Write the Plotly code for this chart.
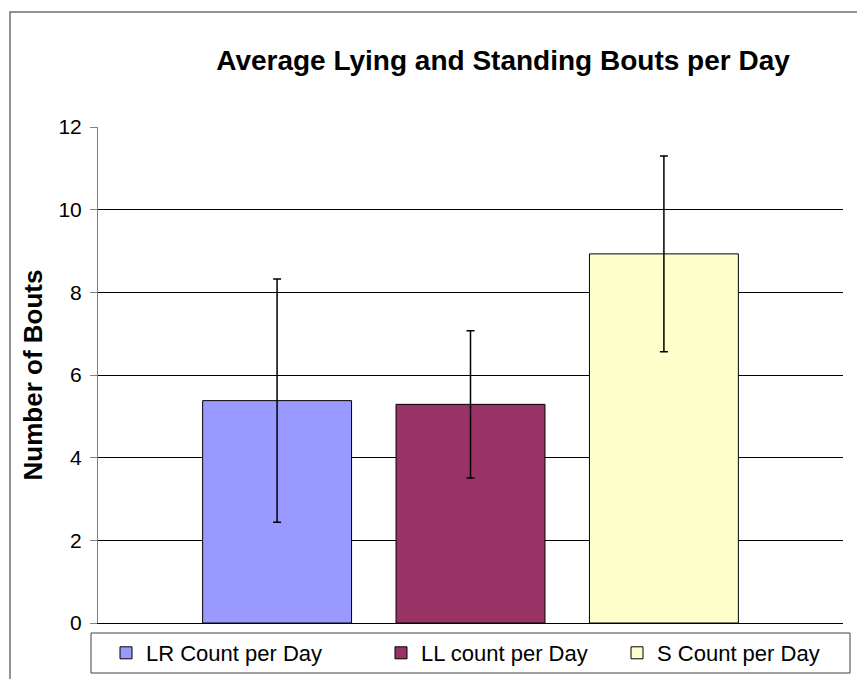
import plotly.graph_objects as go

# Data
categories = ["LR Count per Day", "LL count per Day", "S Count per Day"]
means = [5.38, 5.29, 8.93]
errors = [2.94, 1.78, 2.37]
colors = ["#9999FF", "#993366", "#FFFFCC"]
y_ticks = [0, 2, 4, 6, 8, 10, 12]

FONT = "Arial, 'Liberation Sans', sans-serif"

# page body has an 8px default margin
OFF = 8
W, H = 865, 679
L, R, T, B = 98, 843, 127, 623


def px_x(px):
    return (px - L) / (R - L)


def px_y(py):
    return (B - py) / (B - T)


legend_names = ["legend", "legend2", "legend3"]
legend_left = [106, 381, 617]

fig = go.Figure()
for cat, m, e, c, lg in zip(categories, means, errors, colors, legend_names):
    fig.add_trace(go.Bar(
        x=[cat], y=[m], name=cat,
        width=0.77, legend=lg,
        marker=dict(color=c, line=dict(color="#000000", width=1)),
        error_y=dict(type="data", array=[e], visible=True,
                     color="#000000", thickness=1.5, width=4),
    ))

legend_common = dict(orientation="h", xanchor="left", yanchor="middle",
                     y=px_y(653), bgcolor="rgba(0,0,0,0)", borderwidth=0,
                     font=dict(size=22, family=FONT, color="#000000"),
                     itemclick=False, itemdoubleclick=False)

fig.update_layout(
    width=W - OFF, height=H - OFF,
    margin=dict(l=L - OFF, r=W - R, t=T - OFF, b=H - B, autoexpand=False),
    paper_bgcolor="white", plot_bgcolor="white",
    barmode="overlay",
    font=dict(family=FONT, color="#000000"),
    title=dict(text="<b>Average Lying and Standing Bouts per Day</b>",
               font=dict(size=28, family=FONT, color="#000000"),
               x=(503 - OFF) / (W - OFF), xref="container", xanchor="center",
               y=1 - (60 - OFF) / (H - OFF), yref="container",
               yanchor="middle"),
    xaxis=dict(categoryorder="array", categoryarray=categories,
               range=[-0.926, 2.926], showticklabels=False, ticks="",
               showgrid=False, showline=True, linecolor="#000000",
               linewidth=1, zeroline=False, fixedrange=True),
    yaxis=dict(range=[0, 12], tickvals=y_ticks,
               ticktext=[str(v) for v in y_ticks],
               tickfont=dict(size=21, family=FONT, color="#000000"),
               ticks="outside", ticklen=7, tickcolor="#808080",
               ticklabelstandoff=4,
               showline=True, linecolor="#808080", linewidth=1,
               showgrid=True, gridcolor="#000000", gridwidth=1,
               zeroline=False,
               title=dict(text="<b>Number of Bouts</b>",
                          font=dict(size=26, family=FONT, color="#000000"),
                          standoff=8)),
    legend=dict(x=px_x(legend_left[0]), **legend_common),
    legend2=dict(x=px_x(legend_left[1]), **legend_common),
    legend3=dict(x=px_x(legend_left[2]), **legend_common),
    showlegend=True,
    shapes=[
        dict(type="rect", xref="paper", yref="paper",
             x0=px_x(10), x1=1.3, y0=-0.3, y1=px_y(12),
             line=dict(color="#707070", width=1.5),
             fillcolor="rgba(0,0,0,0)", layer="below"),
        dict(type="rect", xref="paper", yref="paper",
             x0=px_x(91), x1=px_x(850), y0=px_y(673), y1=px_y(633),
             line=dict(color="#404040", width=1),
             fillcolor="white", layer="below"),
    ],
)

fig.write_html("out.html")
